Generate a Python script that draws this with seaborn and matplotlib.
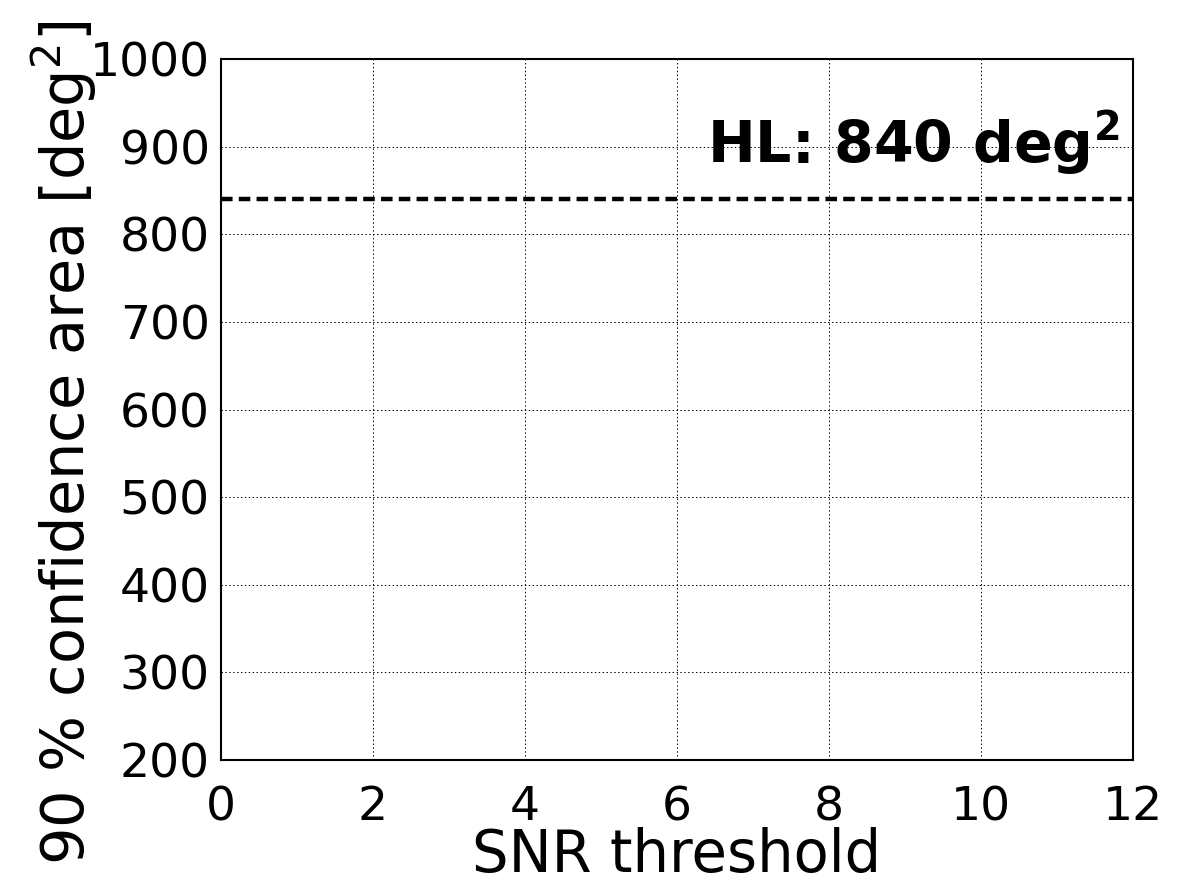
import matplotlib
matplotlib.use("Agg")
import matplotlib.pyplot as plt
import seaborn as sns
import pandas as pd

snr_range = [0, 12]
hl_area = [840, 840]
x_ticks = [0, 2, 4, 6, 8, 10, 12]
y_ticks = [200, 300, 400, 500, 600, 700, 800, 900, 1000]
label_text = "HL: 840 deg$^\\mathbf{2}$"

sns.set_style("white")
plt.rcParams['font.family'] = ['DejaVu Sans']
plt.rcParams['mathtext.default'] = 'regular'
plt.rcParams['text.color'] = 'black'
plt.rcParams['axes.labelcolor'] = 'black'

fig = plt.figure(figsize=(11.99, 8.86), dpi=100)
ax = fig.add_axes([0.1843, 0.1422, 0.9450 - 0.1843, 0.9334 - 0.1422])

df = pd.DataFrame({"snr": snr_range, "area": hl_area})
sns.lineplot(data=df, x="snr", y="area", ax=ax, color="black",
             linewidth=3.2, linestyle=(0, (2.6, 1.4)))

ax.set_xlim(0, 12)
ax.set_ylim(200, 1000)
ax.set_xticks(x_ticks)
ax.set_yticks(y_ticks)
ax.tick_params(axis="both", labelsize=34, length=0, colors="black")
ax.tick_params(axis="x", pad=18)
ax.tick_params(axis="y", pad=8)
ax.grid(True, color="black", linestyle=(0, (1.5, 2.5)), linewidth=0.7)
for s in ax.spines.values():
    s.set_color("black")
    s.set_linewidth(1.5)

ax.set_xlabel("SNR threshold", fontsize=41.5, labelpad=-2)
ax.set_ylabel("90 % confidence area [deg$^2$]", fontsize=42.5)
ax.yaxis.set_label_coords(-0.134, 0.452)

ax.text(0.985, 0.88, label_text, transform=ax.transAxes, ha="right",
        va="center", fontsize=41, fontweight="bold")

fig.savefig("out.png", dpi=100)
